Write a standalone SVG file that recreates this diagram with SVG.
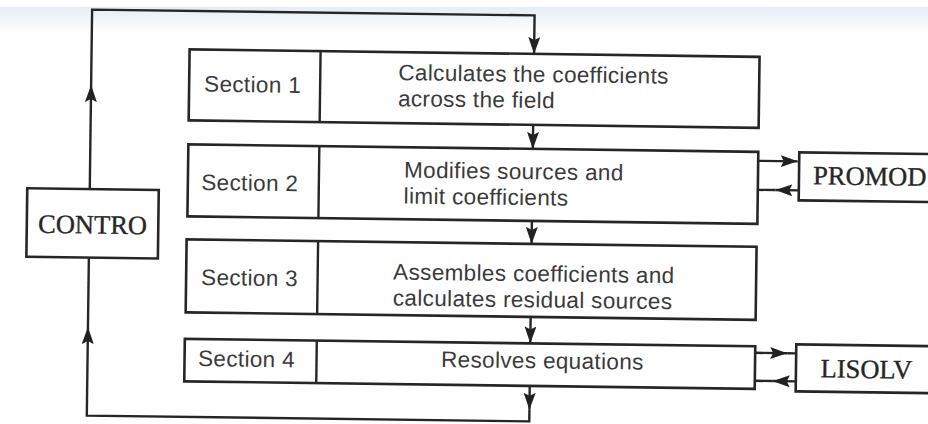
<svg xmlns="http://www.w3.org/2000/svg" width="928" height="424" viewBox="0 0 928 424">
<defs>
<linearGradient id="band" x1="0" y1="0" x2="0" y2="1">
<stop offset="0" stop-color="#e4edf6"/>
<stop offset="1" stop-color="#ffffff"/>
</linearGradient>
<marker id="ah" viewBox="0 0 17 12" markerWidth="17" markerHeight="12" refX="17" refY="6" orient="auto" markerUnits="userSpaceOnUse">
<path d="M0,0 L17,6 L0,12 L3,6 Z" fill="#222"/>
</marker>
<style>
.box{fill:#fff;stroke:#262626;stroke-width:2.6}
.div{stroke:#262626;stroke-width:2.4}
.ln{fill:none;stroke:#262626;stroke-width:2.4}
.arr{fill:none;stroke:#262626;stroke-width:2.4;marker-end:url(#ah)}
.sans{font-family:"Liberation Sans",Arial,sans-serif;font-size:22.5px;letter-spacing:0.35px;fill:#3a3a3a}
.serif{font-family:"Liberation Serif","Times New Roman",serif;font-size:26.5px;fill:#262626;stroke:#262626;stroke-width:0.35}
</style>
</defs>
<rect x="0" y="0" width="928" height="424" fill="#fff"/>
<rect x="0" y="7" width="928" height="26" fill="url(#band)"/>
<g transform="rotate(0.75 464 212)">
<g id="connectors">
<path class="arr" d="M89.5,194 V90"/>
<path class="arr" d="M89.5,90 V14.5 H532 V53"/>
<path class="arr" d="M532,124 V148"/>
<path class="arr" d="M532,220 V243"/>
<path class="arr" d="M532,316 V342.5"/>
<path class="arr" d="M532,385 V409"/>
<path class="arr" d="M532,409 V420.5 H89.5 V332"/>
<path class="ln" d="M89.5,332 V262.5"/>
<path class="arr" d="M757.5,157 H797"/>
<path class="arr" d="M798.5,186 H775"/>
<path class="ln" d="M775,186 H757.5"/>
<path class="arr" d="M757,349 H789"/>
<path class="ln" d="M789,349 H798"/>
<path class="arr" d="M798,377 H775"/>
<path class="ln" d="M775,377 H757"/>
</g>
<g id="contro">
<rect class="box" x="27" y="194" width="131.5" height="68.5"/>
<text class="serif" x="92.8" y="238.3" text-anchor="middle">CONTRO</text>
</g>
<g id="section1">
<rect class="box" x="187.5" y="53" width="570" height="71"/>
<line class="div" x1="318.5" y1="53" x2="318.5" y2="124"/>
<text class="sans" x="202.5" y="95">Section 1</text>
<text class="sans" x="396.5" y="81">Calculates the coefficients</text>
<text class="sans" x="396.5" y="107">across the field</text>
</g>
<g id="section2">
<rect class="box" x="187.5" y="148" width="570" height="72"/>
<line class="div" x1="318.5" y1="148" x2="318.5" y2="220"/>
<text class="sans" x="201" y="193.4">Section 2</text>
<text class="sans" x="403.5" y="178.3">Modifies sources and</text>
<text class="sans" x="403.5" y="204.3">limit coefficients</text>
</g>
<g id="section3">
<rect class="box" x="187" y="243" width="570" height="73"/>
<line class="div" x1="318.5" y1="243" x2="318.5" y2="316"/>
<text class="sans" x="202" y="288.4">Section 3</text>
<text class="sans" x="394" y="280.4">Assembles coefficients and</text>
<text class="sans" x="394" y="306.4">calculates residual sources</text>
</g>
<g id="section4">
<rect class="box" x="186.5" y="342.5" width="570.5" height="42.5"/>
<line class="div" x1="318.5" y1="342.5" x2="318.5" y2="385"/>
<text class="sans" x="200" y="369.5">Section 4</text>
<text class="sans" x="443" y="367.3">Resolves equations</text>
</g>
<g id="promod">
<rect class="box" x="798.5" y="148" width="170" height="48"/>
<text class="serif" x="812.6" y="179.7">PROMOD</text>
</g>
<g id="lisolv">
<rect class="box" x="798" y="340" width="170" height="47"/>
<text class="serif" x="868.5" y="372.7" text-anchor="middle">LISOLV</text>
</g>
</g>
</svg>
